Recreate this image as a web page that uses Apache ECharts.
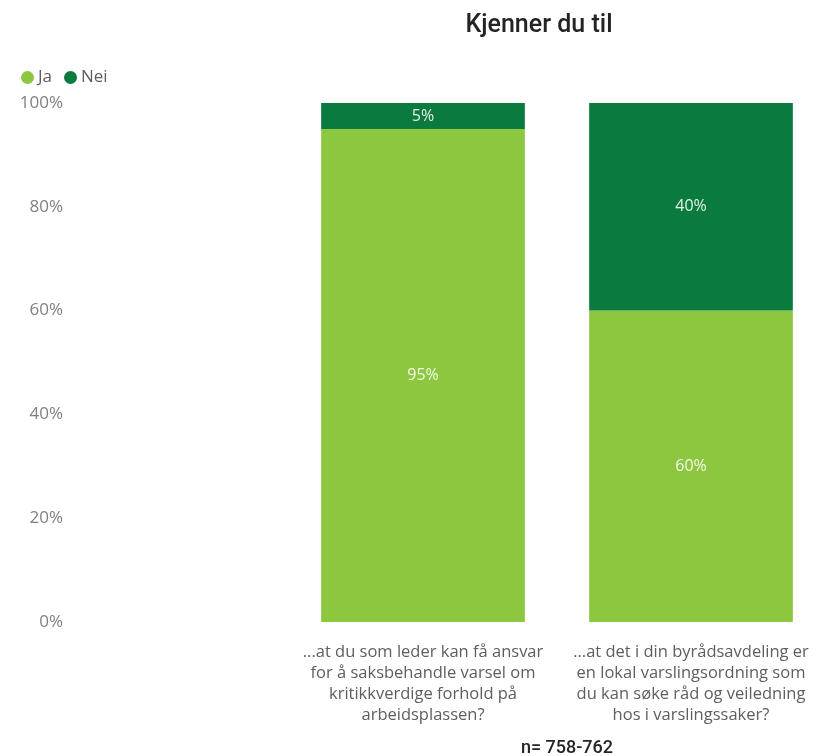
<!DOCTYPE html>
<html>
<head>
<meta charset="utf-8">
<script src="https://cdn.jsdelivr.net/npm/echarts@6/dist/echarts.min.js"></script>
<style>
  html, body { margin: 0; padding: 0; background: #fff; }
  #myChart { width: 825px; height: 756px; }
</style>
</head>
<body>
<div id="myChart"></div>
<script>
// spørsmål (kategorier)
const categories = [
  '...at du som leder kan få ansvar\nfor å saksbehandle varsel om\nkritikkverdige forhold på\narbeidsplassen?',
  '...at det i din byrådsavdeling er\nen lokal varslingsordning som\ndu kan søke råd og veiledning\nhos i varslingssaker?'
];
const jaValues = [95, 60];
const neiValues = [5, 40];
const yTicks = [0, 20, 40, 60, 80, 100];

let myChart = echarts.init(document.getElementById('myChart'));
let option = {
  backgroundColor: '#fff',
  animation: false,
  title: [
    {
      text: 'Kjenner du til',
      left: 534,
      top: 8,
      textAlign: 'center',
      textStyle: { fontFamily: 'Roboto', fontSize: 25, fontWeight: 500, color: '#252423' }
    },
    {
      text: 'n= 758-762',
      left: 562,
      top: 734,
      textAlign: 'center',
      textStyle: { fontFamily: 'Roboto', fontSize: 18, fontWeight: 500, color: '#252423' }
    }
  ],
  legend: {
    left: 16,
    top: 64,
    itemWidth: 13,
    itemHeight: 13,
    itemGap: 12,
    icon: 'circle',
    textStyle: { fontFamily: 'Open Sans', fontSize: 17, color: '#605E5C', padding: [0, 0, 0, -1] },
    data: ['Ja', 'Nei']
  },
  grid: {
    left: 289,
    top: 103,
    width: 542,
    bottom: 134
  },
  xAxis: {
    type: 'category',
    data: categories,
    axisLine: { show: false },
    axisTick: { show: false },
    axisLabel: {
      interval: 0,
      margin: 20,
      fontFamily: 'Open Sans',
      fontSize: 16.5,
      lineHeight: 21,
      color: '#605E5C',
      align: 'center'
    }
  },
  yAxis: {
    type: 'value',
    min: 0,
    max: 100,
    interval: 20,
    splitLine: { show: false },
    axisLine: { show: false },
    axisTick: { show: false },
    axisLabel: {
      margin: 226,
      fontFamily: 'Open Sans',
      fontSize: 17,
      color: '#808080',
      formatter: function (v) { return yTicks.indexOf(v) >= 0 ? v + '%' : ''; }
    }
  },
  series: [
    {
      name: 'Ja',
      type: 'bar',
      stack: 'total',
      barWidth: '76%',
      data: jaValues,
      itemStyle: { color: '#8DC63F' },
      label: {
        show: true,
        position: 'inside',
        formatter: '{c}%',
        fontFamily: 'Open Sans',
        fontSize: 16,
        color: '#F2F9EA'
      }
    },
    {
      name: 'Nei',
      type: 'bar',
      stack: 'total',
      barWidth: '76%',
      data: neiValues,
      itemStyle: { color: '#0A7A3E' },
      label: {
        show: true,
        position: 'inside',
        formatter: '{c}%',
        fontFamily: 'Open Sans',
        fontSize: 16,
        color: '#E6F2EA'
      }
    }
  ]
};
myChart.setOption(option, true);
</script>
</body>
</html>
